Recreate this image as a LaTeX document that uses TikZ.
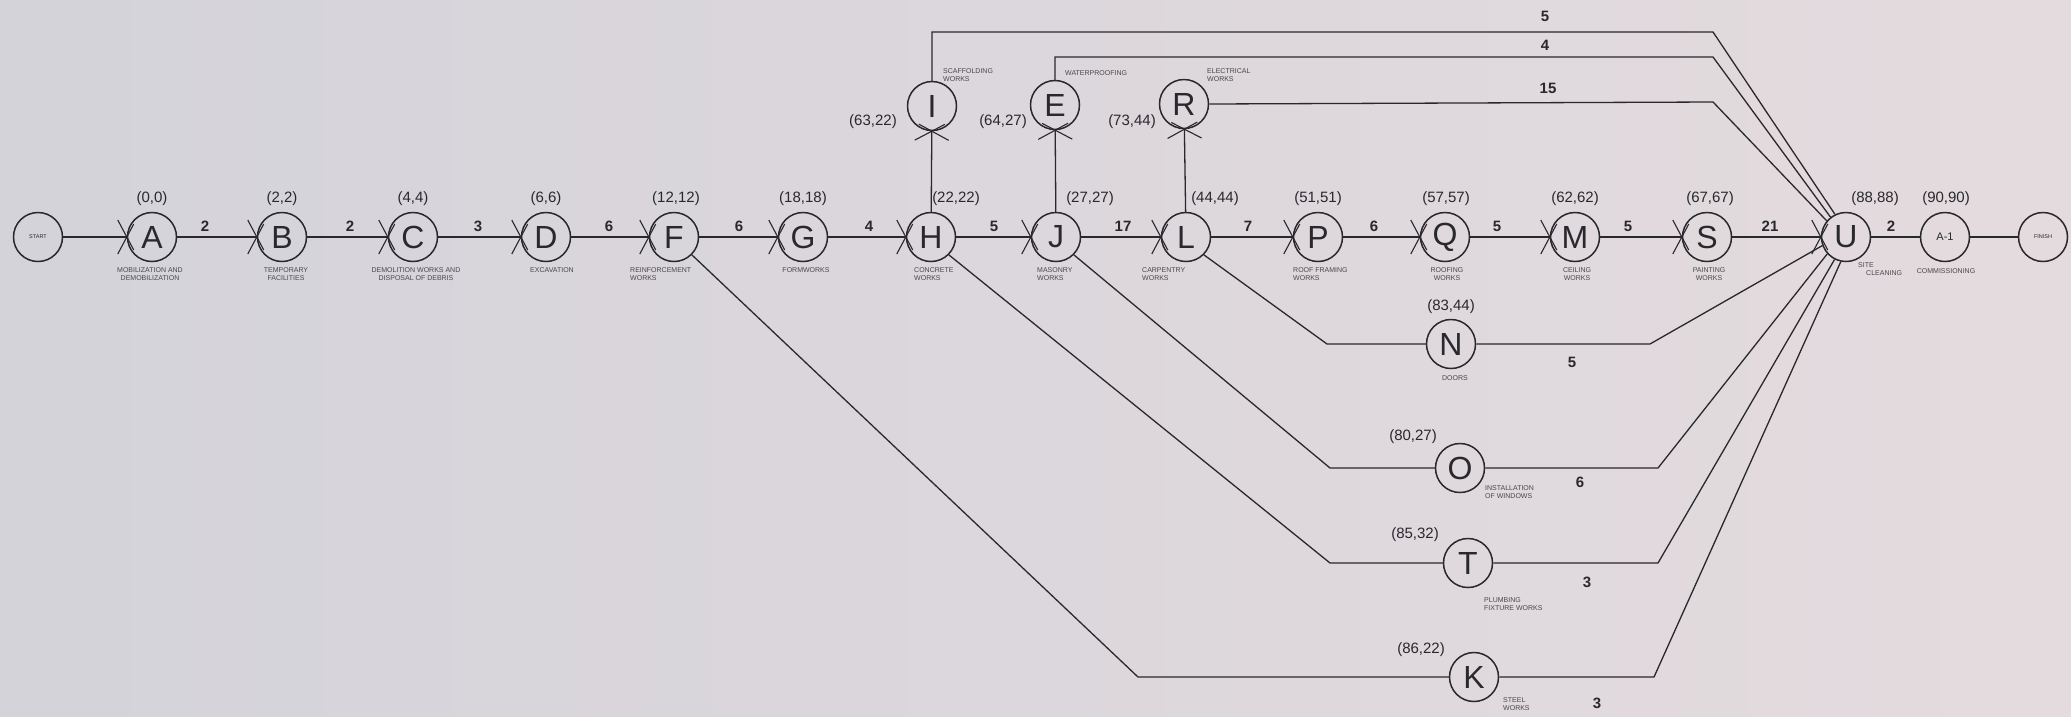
\documentclass[tikz,border=0pt]{standalone}
\usepackage{fontspec}
\setmainfont{Liberation Sans}
\usetikzlibrary{decorations.markings,calc}
\definecolor{ink}{RGB}{40,40,45}
\definecolor{bgL}{RGB}{212,211,218}
\definecolor{bgR}{RGB}{228,219,222}
\begin{document}
\begin{tikzpicture}[x=1pt,y=-1pt,
  ev/.style={circle,draw=ink,line width=1.5pt,minimum size=49pt,inner sep=0pt,font=\fontsize{32}{32}\selectfont,text=ink},
  tinyev/.style={ev,font=\fontsize{5.5}{6}\selectfont},
  sub/.style={font=\fontsize{7}{8}\selectfont,text=ink!85,align=center,inner sep=0pt},
  subl/.style={sub,align=left},
  co/.style={font=\fontsize{15}{15}\selectfont,text=ink,inner sep=0pt},
  du/.style={font=\bfseries\fontsize{15}{15}\selectfont,text=ink,inner sep=0pt},
  link/.style={draw=ink,line width=1.3pt},
  mainlink/.style={draw=ink,line width=2.1pt},
  xhead/.style={postaction={decorate},decoration={markings,mark=at position 1 with {\draw[ink,line width=1.1pt] (-9pt,-17pt) -- (7pt,13pt) (-9pt,17pt) -- (7pt,-13pt);}}}
]
\shade[left color=bgL,right color=bgR] (0,0) rectangle (2071,716);

% main row
\node[tinyev] (st) at (38,237) {START};
\node[ev] (A) at (152,237) {A};
\node[ev] (B) at (282,237) {B};
\node[ev] (C) at (413,237) {C};
\node[ev] (D) at (546,237) {D};
\node[ev] (F) at (674,237) {F};
\node[ev] (G) at (803,237) {G};
\node[ev] (H) at (931,237) {H};
\node[ev] (J) at (1056,237) {J};
\node[ev] (L) at (1186,237) {L};
\node[ev] (P) at (1318,237) {P};
\node[ev] (Q) at (1445,237) {Q};
\node[ev] (M) at (1575,237) {M};
\node[ev] (S) at (1707,237) {S};
\node[ev] (U) at (1846,237) {U};
\node[ev,font=\fontsize{11}{11}\selectfont] (A1) at (1945,237) {A-1};
\node[tinyev] (fin) at (2043,237) {FINISH};

% upper row
\node[ev] (I) at (932,106) {I};
\node[ev] (E) at (1055,105) {E};
\node[ev] (R) at (1184,104) {R};

% lower nodes
\node[ev] (N) at (1451,344) {N};
\node[ev] (O) at (1460,468) {O};
\node[ev] (T) at (1468,563) {T};
\node[ev] (K) at (1474,677) {K};

% main connectors
\foreach \a/\b in {st/A,A/B,B/C,C/D,D/F,F/G,G/H,H/J,J/L,L/P,P/Q,Q/M,M/S,S/U}
  \draw[mainlink,xhead] (\a) -- (\b);
\draw[mainlink] (U) -- (A1);
\draw[mainlink] (A1) -- (fin);

% vertical connectors
\draw[link,xhead] (H) -- (I);
\draw[link,xhead] (J) -- (E);
\draw[link,xhead] (L) -- (R);

% top routes to U
\coordinate (i1) at (932,32);
\coordinate (i2) at (1713,32);
\coordinate (e1) at (1055,57);
\coordinate (e2) at (1713,57);
\coordinate (r2) at (1713,102);
\draw[link] (I.north) -- (i1) -- (i2) -- (U.116);
\draw[link] (E.north) -- (e1) -- (e2) -- (U.128);
\draw[link] (R.east) -- (r2) -- (U.140);

% lower routes
\coordinate (n1) at (1327,344);
\coordinate (n2) at (1650,344);
\coordinate (o1) at (1330,468);
\coordinate (o2) at (1658,468);
\coordinate (t1) at (1330,563);
\coordinate (t2) at (1658,563);
\coordinate (k1) at (1138,677);
\coordinate (k2) at (1654,677);
\draw[link] (L.-45) -- (n1) -- (N.west);
\draw[link] (N.east) -- (n2) -- (U.200);
\draw[link] (J.-45) -- (o1) -- (O.west);
\draw[link] (O.east) -- (o2) -- (U.222);
\draw[link] (H.-45) -- (t1) -- (T.west);
\draw[link] (T.east) -- (t2) -- (U.243);
\draw[link] (F.-45) -- (k1) -- (K.west);
\draw[link] (K.east) -- (k2) -- (U.258);

% durations main row
\foreach \x/\t in {205/2,350/2,478/3,609/6,739/6,869/4,994/5,1123/17,1248/7,1374/6,1497/5,1628/5,1770/21,1891/2}
  \node[du] at (\x,226) {\t};
% durations top and lower
\node[du] at (1545,16) {5};
\node[du] at (1545,45) {4};
\node[du] at (1548,88) {15};
\node[du] at (1572,362) {5};
\node[du] at (1580,482) {6};
\node[du] at (1587,582) {3};
\node[du] at (1597,703) {3};

% time labels
\foreach \x/\t in {152/{(0,0)},282/{(2,2)},413/{(4,4)},546/{(6,6)},676/{(12,12)},803/{(18,18)},956/{(22,22)},1090/{(27,27)},1215/{(44,44)},1318/{(51,51)},1446/{(57,57)},1575/{(62,62)},1710/{(67,67)},1875/{(88,88)},1946/{(90,90)}}
  \node[co] at (\x,199) {\t};
\node[co] at (873,122) {(63,22)};
\node[co] at (1003,122) {(64,27)};
\node[co] at (1132,122) {(73,44)};
\node[co] at (1451,307) {(83,44)};
\node[co] at (1413,437) {(80,27)};
\node[co] at (1415,535) {(85,32)};
\node[co] at (1421,650) {(86,22)};

% activity names
\node[sub,anchor=north] at (150,267) {MOBILIZATION AND\\DEMOBILIZATION};
\node[sub,anchor=north] at (286,267) {TEMPORARY\\FACILITIES};
\node[sub,anchor=north] at (416,267) {DEMOLITION WORKS AND\\DISPOSAL OF DEBRIS};
\node[sub,anchor=north] at (552,267) {EXCAVATION};
\node[subl,anchor=north west] at (630,267) {REINFORCEMENT\\WORKS};
\node[sub,anchor=north] at (806,267) {FORMWORKS};
\node[subl,anchor=north west] at (914,267) {CONCRETE\\WORKS};
\node[subl,anchor=north west] at (1037,267) {MASONRY\\WORKS};
\node[subl,anchor=north west] at (1142,267) {CARPENTRY\\WORKS};
\node[subl,anchor=north west] at (1293,267) {ROOF FRAMING\\WORKS};
\node[sub,anchor=north] at (1447,267) {ROOFING\\WORKS};
\node[sub,anchor=north] at (1577,267) {CEILING\\WORKS};
\node[sub,anchor=north] at (1709,267) {PAINTING\\WORKS};
\node[subl,anchor=north west] at (1858,262) {SITE\\\hspace*{8pt}CLEANING};
\node[sub,anchor=north] at (1946,268) {COMMISSIONING};
\node[subl,anchor=south west] at (943,82) {SCAFFOLDING\\WORKS};
\node[subl,anchor=south west] at (1065,76) {WATERPROOFING};
\node[subl,anchor=south west] at (1207,82) {ELECTRICAL\\WORKS};
\node[sub,anchor=north] at (1455,375) {DOORS};
\node[subl,anchor=north west] at (1485,485) {INSTALLATION\\OF WINDOWS};
\node[subl,anchor=north west] at (1484,597) {PLUMBING\\FIXTURE WORKS};
\node[subl,anchor=north west] at (1503,697) {STEEL\\WORKS};
\end{tikzpicture}
\end{document}
